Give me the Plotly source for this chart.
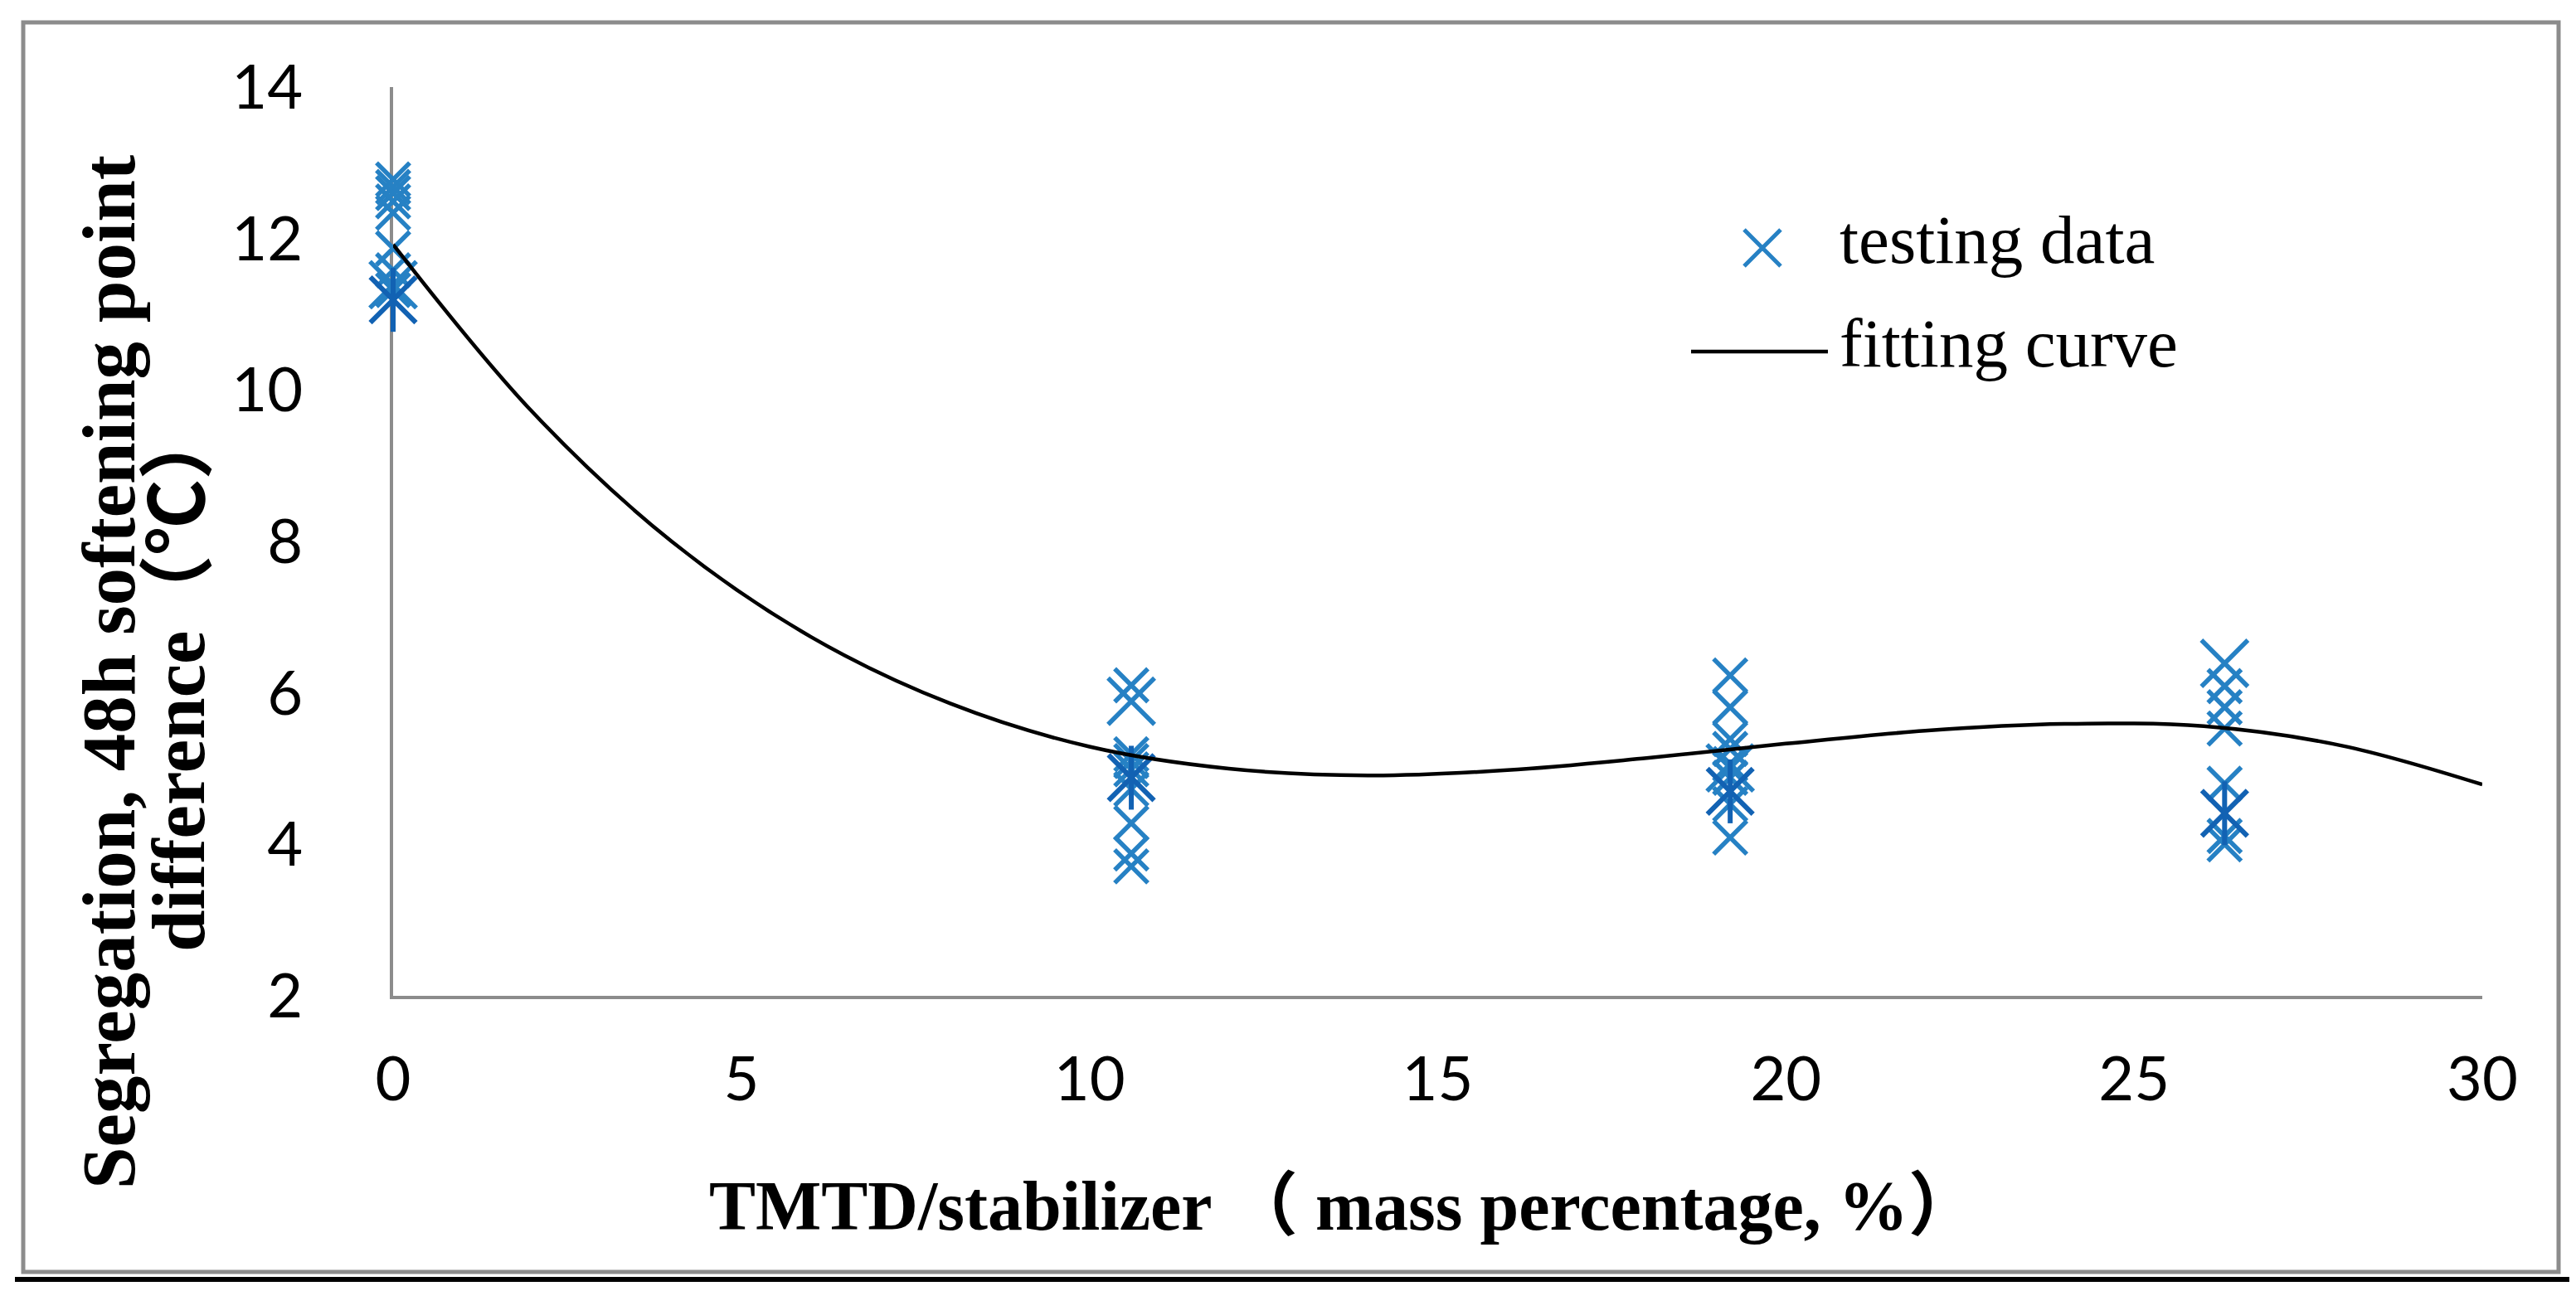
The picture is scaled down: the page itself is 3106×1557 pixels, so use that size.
import plotly.graph_objects as go

# ---------------- data ----------------
dose_levels = [0, 10.6, 19.2, 26.3]          # TMTD/stabilizer, mass %

# "x" markers of the testing data, per dose level
small_y_0 = [12.78, 12.68, 12.60, 12.49, 12.34, 11.87, 11.58, 11.32]
small_y_1 = [6.10, 5.19, 5.10, 4.99, 4.73, 4.28, 3.88, 3.71]
small_y_2 = [6.23, 5.81, 5.39, 5.26, 5.06, 4.88, 4.53, 4.09]
small_y_3 = [6.09, 5.81, 5.53, 4.80, 4.11, 4.00]

# larger "x" markers, one per dose level
large_y = [11.39, 5.89, 5.01, 6.39]
# star markers (x with vertical bar), one per dose level
star_y = [11.19, 4.88, 4.70, 4.41]

# fitting curve
curve_x = [0, 2, 4, 6, 8, 10, 12, 14, 16, 18, 20, 22, 24, 26, 28, 30]
curve_y = [11.92, 9.71, 8.00, 6.74, 5.86, 5.29, 5.00, 4.91, 4.98, 5.14,
           5.33, 5.50, 5.59, 5.56, 5.30, 4.79]

x_ticks = [0, 5, 10, 15, 20, 25, 30]
y_ticks = [2, 4, 6, 8, 10, 12, 14]

# ---------------- layout geometry ----------------
W, H = 3106, 1557
L, R, T, B = 466, 121, 97, 364
PW = W - L - R
PH = H - T - B


def xp(px):
    return (px - L) / PW


def yp(py):
    return (H - B - py) / PH


LIGHT = "#2681c4"
DARK = "#1262b3"

small_groups = [small_y_0, small_y_1, small_y_2, small_y_3]
small_x, small_y = [], []
for xv, ys in zip(dose_levels, small_groups):
    small_x += [xv] * len(ys)
    small_y += ys

fig = go.Figure()

fig.add_trace(go.Scatter(
    x=small_x, y=small_y, mode="markers", cliponaxis=False, showlegend=False,
    marker=dict(symbol="x-thin", size=40, line=dict(width=5.5, color=LIGHT)),
))
fig.add_trace(go.Scatter(
    x=dose_levels, y=large_y, mode="markers", cliponaxis=False, showlegend=False,
    marker=dict(symbol="x-thin", size=56, line=dict(width=5.5, color=LIGHT)),
))
fig.add_trace(go.Scatter(
    x=dose_levels, y=star_y, mode="markers", cliponaxis=False, showlegend=False,
    marker=dict(symbol="x-thin", size=55, line=dict(width=6, color=DARK)),
))
fig.add_trace(go.Scatter(
    x=dose_levels, y=star_y, mode="markers", cliponaxis=False, showlegend=False,
    marker=dict(symbol="line-ns", size=55, line=dict(width=6, color=DARK)),
))
fig.add_trace(go.Scatter(
    x=curve_x, y=curve_y, mode="lines", cliponaxis=False, showlegend=False,
    line=dict(color="black", width=4.5, shape="spline", smoothing=1.0),
))

TICKFONT = dict(family="Lato", size=74, color="black")
SERIF = "Liberation Serif, Noto Sans CJK SC, serif"

fig.update_xaxes(
    range=[0, 30], tickvals=x_ticks, ticktext=[str(v) for v in x_ticks],
    showgrid=False, zeroline=False, showline=True, linecolor="#8c8c8c",
    linewidth=4, ticks="", tickfont=TICKFONT, ticklabelstandoff=33,
    layer="below traces",
)
fig.update_yaxes(
    range=[2, 14], tickvals=y_ticks, ticktext=[str(v) for v in y_ticks],
    showgrid=False, zeroline=False, showline=True, linecolor="#8c8c8c",
    linewidth=4, ticks="", tickfont=TICKFONT, ticklabelstandoff=90,
    layer="below traces",
)

shapes = [
    # outer chart frame
    dict(type="rect", xref="paper", yref="paper",
         x0=xp(20), x1=xp(3077), y0=yp(1526), y1=yp(19),
         line=dict(color="#8c8c8c", width=5), layer="below"),
    # black rule under the figure
    dict(type="line", xref="paper", yref="paper",
         x0=xp(10), x1=xp(3097), y0=yp(1535), y1=yp(1535),
         line=dict(color="black", width=6)),
    # legend: line sample
    dict(type="line", xref="paper", yref="paper",
         x0=xp(2031), x1=xp(2196), y0=yp(416), y1=yp(416),
         line=dict(color="black", width=4.5)),
    # legend: x sample
    dict(type="path", xref="paper", yref="paper",
         path=(f"M{xp(2095)},{yp(269)} L{xp(2139)},{yp(313)} "
               f"M{xp(2095)},{yp(313)} L{xp(2139)},{yp(269)}"),
         line=dict(color=LIGHT, width=5)),
]

LEGFONT = dict(family="Liberation Serif", size=83, color="black")
TITLEFONT = dict(family=SERIF, size=84, color="black")
YTITLEFONT = dict(family=SERIF, size=91, color="black")
CJK = "<span style=\"font-family:'Noto Sans CJK SC'\">"
annotations = [
    dict(text="testing data", xref="paper", yref="paper",
         x=xp(2208), y=yp(281), xanchor="left", yanchor="middle",
         showarrow=False, font=LEGFONT),
    dict(text="fitting curve", xref="paper", yref="paper",
         x=xp(2208), y=yp(406), xanchor="left", yanchor="middle",
         showarrow=False, font=LEGFONT),
    dict(text="<b>Segregation, 48h softening point</b>",
         xref="paper", yref="paper", x=xp(123), y=yp(803),
         xanchor="center", yanchor="middle", textangle=-90,
         showarrow=False, font=YTITLEFONT),
    dict(text="<b>difference" + CJK + "（℃）</span></b>",
         xref="paper", yref="paper", x=xp(198), y=yp(810),
         xanchor="center", yanchor="middle", textangle=-90,
         showarrow=False, font=YTITLEFONT),
    dict(text="<b>TMTD/stabilizer （ mass percentage, %）</b>",
         xref="paper", yref="paper", x=xp(1612), y=yp(1446),
         xanchor="center", yanchor="middle",
         showarrow=False, font=TITLEFONT),
]

fig.update_layout(
    width=W, height=H,
    margin=dict(l=L, r=R, t=T, b=B, autoexpand=False),
    paper_bgcolor="white", plot_bgcolor="white",
    showlegend=False,
    shapes=shapes, annotations=annotations,
)

fig.write_html("out.html")
